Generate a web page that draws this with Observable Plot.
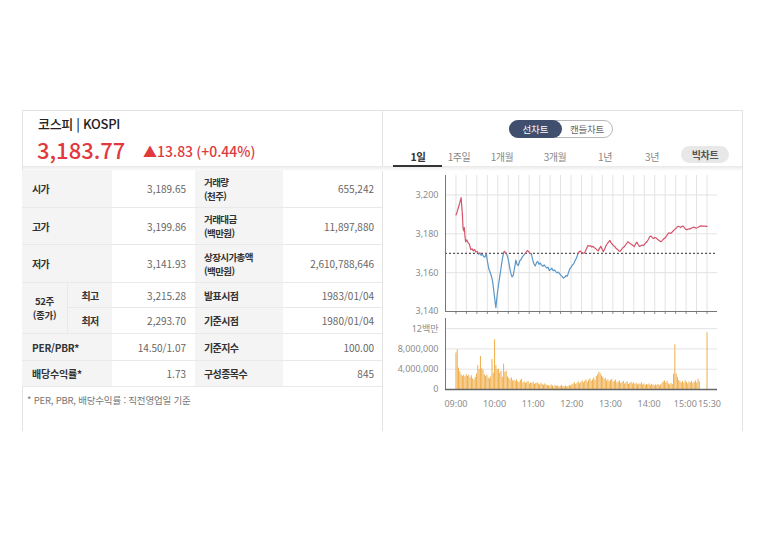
<!DOCTYPE html>
<html lang="ko">
<head>
<meta charset="utf-8">
<script src="https://cdn.jsdelivr.net/npm/d3@7"></script>
<script src="https://cdn.jsdelivr.net/npm/@observablehq/plot@0.6"></script>
<style>
html,body{margin:0;padding:0;background:#fff;}
body{font-family:"Noto Sans CJK KR","Noto Sans",sans-serif;}
#wrap{position:relative;width:768px;height:543px;overflow:hidden;background:#fff;}
.a{position:absolute;box-sizing:border-box;}
.lbl{font-weight:700;color:#333;font-size:10px;letter-spacing:-0.6px;display:flex;align-items:center;}
.val{color:#666;font-size:10px;display:flex;align-items:center;justify-content:flex-end;}
.gray{background:#f4f4f4;}
.bb{border-bottom:1px solid #e9e9e9;}
.two{font-size:9.5px;line-height:14px;}
svg{display:block;}
</style>
</head>
<body>
<div id="wrap"></div>
<script>
// ---------------- data ----------------
const indexTitle = "코스피 | KOSPI";
const lastValue = "3,183.77";
const changeText = "▲13.83 (+0.44%)";
const prevClose = 3169.94;

const leftLabels = ["시가", "고가", "저가", "최고", "최저", "PER/PBR*", "배당수익률*"];
const leftValues = ["3,189.65", "3,199.86", "3,141.93", "3,215.28", "2,293.70", "14.50/1.07", "1.73"];
const week52Label = ["52주", "(종가)"];
const rightLabels = [["거래량", "(천주)"], ["거래대금", "(백만원)"], ["상장시가총액", "(백만원)"], ["발표시점"], ["기준시점"], ["기준지수"], ["구성종목수"]];
const rightValues = ["655,242", "11,897,880", "2,610,788,646", "1983/01/04", "1980/01/04", "100.00", "845"];
const footnote = "* PER, PBR, 배당수익률 : 직전영업일 기준";
const chartTypes = ["선차트", "캔들차트"];
const periodTabs = ["1일", "1주일", "1개월", "3개월", "1년", "3년"];
const bigChart = "빅차트";

const priceTicks = [3140, 3160, 3180, 3200];
const volTicks = [0, 4000000, 8000000, 12000000];
const volTickLabels = ["0", "4,000,000", "8,000,000", "12백만"];
const timeTicks = ["09:00", "10:00", "11:00", "12:00", "13:00", "14:00", "15:00", "15:30"];

// intraday index (minutes after 09:00, value)
const priceMinute = [
  0, 2, 4, 6, 8, 10, 11, 12, 13, 14,
  15, 17, 19, 21, 23, 25, 27, 29, 31, 33,
  35, 37, 39, 41, 43, 45, 47, 49, 51, 53,
  55, 57, 59, 61, 62, 64, 66, 68, 70, 72,
  74, 75, 77, 79, 81, 83, 85, 87, 89, 91,
  93, 95, 97, 99, 101, 103, 105, 107, 109, 111,
  113, 115, 117, 119, 121, 123, 125, 127, 129, 131,
  133, 135, 137, 139, 141, 143, 145, 147, 149, 151,
  153, 155, 157, 159, 161, 163, 165, 167, 169, 171,
  173, 175, 177, 179, 181, 183, 185, 187, 189, 191,
  193, 195, 197, 199, 201, 203, 205, 207, 209, 211,
  213, 215, 217, 219, 221, 223, 225, 227, 229, 231,
  233, 235, 237, 239, 241, 243, 245, 247, 249, 251,
  253, 255, 257, 259, 261, 263, 265, 267, 269, 271,
  273, 275, 277, 279, 281, 283, 285, 287, 289, 291,
  293, 295, 297, 299, 301, 303, 305, 307, 309, 311,
  313, 315, 317, 319, 321, 323, 325, 327, 329, 331,
  333, 335, 337, 339, 341, 343, 345, 347, 349, 351,
  353, 355, 357, 359, 361, 363, 365, 367, 369, 371,
  373, 375, 377, 379, 380, 390
];
const priceValue = [
  3189.65, 3191.5, 3193.8, 3196.0, 3198.6, 3190.0, 3183.0, 3181.5, 3183.2, 3178.5,
  3176.0, 3176.8, 3175.3, 3174.6, 3171.8, 3172.3, 3171.2, 3171.9, 3170.6, 3170.9,
  3169.4, 3170.2, 3168.9, 3169.5, 3168.3, 3168.0, 3169.8, 3165.6, 3162.0, 3160.2,
  3158.3, 3155.4, 3150.0, 3144.5, 3141.93, 3148.5, 3153.5, 3157.8, 3162.5, 3166.8,
  3170.2, 3171.0, 3170.3, 3169.4, 3167.2, 3163.5, 3160.0, 3157.8, 3158.6, 3162.4,
  3166.4, 3164.2, 3163.7, 3166.0, 3166.7, 3168.0, 3168.9, 3169.6, 3170.4, 3171.4,
  3170.8, 3169.7, 3169.9, 3166.8, 3164.6, 3163.4, 3165.0, 3165.8, 3164.3, 3164.9,
  3163.9, 3163.2, 3164.0, 3163.1, 3162.4, 3162.8, 3161.1, 3161.6, 3162.3, 3161.0,
  3161.4, 3160.5, 3159.9, 3160.3, 3159.5, 3158.6, 3158.0, 3157.2, 3157.6, 3158.5,
  3158.2, 3160.3, 3162.0, 3162.8, 3164.0, 3164.6, 3166.2, 3167.4, 3169.3, 3170.6,
  3171.2, 3170.5, 3170.1, 3170.0, 3171.0, 3172.6, 3174.0, 3173.6, 3173.9, 3173.2,
  3173.5, 3172.8, 3172.4, 3171.7, 3171.2, 3172.5, 3173.6, 3172.0, 3170.8, 3172.2,
  3173.8, 3174.9, 3175.7, 3176.6, 3175.3, 3174.6, 3173.8, 3173.3, 3172.4, 3171.9,
  3171.3, 3170.9, 3171.8, 3172.8, 3173.2, 3174.0, 3175.0, 3175.9, 3175.4, 3174.9,
  3174.5, 3174.0, 3173.4, 3174.8, 3175.7, 3174.5, 3173.5, 3173.8, 3174.2, 3173.9,
  3174.6, 3175.4, 3176.0, 3177.2, 3178.5, 3178.8, 3178.0, 3177.6, 3178.1, 3177.8,
  3177.2, 3176.7, 3176.2, 3175.9, 3176.8, 3177.5, 3177.9, 3178.8, 3179.9, 3180.5,
  3180.2, 3180.6, 3181.3, 3182.0, 3182.6, 3183.3, 3183.9, 3183.6, 3183.2, 3183.8,
  3183.9, 3183.0, 3182.3, 3182.1, 3182.6, 3182.4, 3182.8, 3183.1, 3183.4, 3183.2,
  3182.9, 3183.1, 3183.5, 3183.9, 3184.1, 3183.77
];

// volume (millions of shares) per 2-minute bucket from 09:00 to 15:18
const volStartTime = "09:00";
const volStepMin = 2;
const volumeM = [
  7.2, 7.8, 4.2, 3.5, 2.9, 2.6, 2.8, 2.5, 2.9, 2.6,
  2.8, 2.3, 2.7, 2.1, 1.9, 2.4, 3.1, 4.7, 3.9, 6.5,
  4.1, 3.8, 2.9, 2.6, 2.8, 2.3, 2.1, 2.5, 5.9, 3.2,
  9.8, 4.7, 3.9, 4.0, 3.2, 3.6, 2.4, 5.0, 3.4, 3.6,
  2.5, 2.2, 1.9, 2.3, 1.7, 1.8, 1.6, 1.9, 1.5, 1.4,
  1.8, 2.0, 1.3, 1.5, 1.2, 1.4, 1.6, 1.1, 1.3, 1.2,
  1.4, 1.0, 1.2, 1.3, 1.1, 0.9, 1.2, 1.0, 0.8, 1.1,
  0.9, 0.7, 0.8, 0.6, 0.9, 0.7, 0.5, 0.8, 0.6, 0.7,
  0.5, 0.6, 0.8, 0.5, 0.6, 0.7, 0.5, 0.6, 0.8, 0.7,
  0.9, 1.1, 1.3, 1.0, 1.2, 1.5, 1.1, 1.4, 1.7, 1.3,
  1.6, 1.9, 1.4, 1.8, 2.1, 1.6, 1.9, 2.3, 1.8, 2.6,
  2.9, 3.4, 3.1, 2.7, 2.4, 2.0, 2.2, 1.7, 1.9, 1.5,
  1.8, 2.0, 1.4, 1.6, 1.9, 1.3, 1.5, 1.7, 1.2, 1.4,
  1.6, 1.1, 1.3, 1.5, 1.0, 1.2, 1.4, 1.1, 1.3, 1.0,
  1.2, 0.9, 1.1, 1.0, 1.3, 0.9, 1.1, 0.8, 1.0, 0.9,
  1.1, 0.8, 1.0, 0.9, 0.7, 0.9, 0.8, 1.0, 0.7, 0.9,
  1.2, 1.5, 1.7, 1.3, 1.6, 1.1, 0.9, 1.2, 1.0, 3.0,
  8.8, 3.1, 2.4, 1.8, 1.5, 1.3, 1.6, 1.2, 1.7, 1.4,
  1.1, 1.5, 1.3, 1.6, 1.2, 1.4, 1.7, 1.3, 2.0, 1.5
];
const closeAuctionTime = "15:30";
const closeAuctionVolM = 11.2;

// ---------------- layout helpers ----------------
const wrap = document.getElementById("wrap");
function el(cls, style, html) {
  const d = document.createElement("div");
  d.className = "a " + (cls || "");
  Object.assign(d.style, style);
  if (html != null) d.innerHTML = html;
  wrap.appendChild(d);
  return d;
}
const px = v => v + "px";

// card frame
el("", {left: "22px", top: "110px", width: "721px", height: "321px", border: "1px solid #e3e3e3", borderBottom: "none"});
el("", {left: "382px", top: "110px", width: "1px", height: "321px", background: "#e3e3e3"});
el("", {left: "23px", top: "166px", width: "719px", height: "5px", background: "linear-gradient(#e9e9e9,#ffffff)"});

// left header
el("", {left: "38px", top: "114px", fontSize: "13px", color: "#222", fontWeight: "500", letterSpacing: "-0.3px", whiteSpace: "nowrap"}, indexTitle);
el("", {left: "37px", top: "134px", fontSize: "22px", color: "#e0393e", fontWeight: "500", whiteSpace: "nowrap", lineHeight: "30px"}, lastValue);
el("", {left: "143px", top: "141px", fontSize: "14px", color: "#e0393e", fontWeight: "500", whiteSpace: "nowrap", lineHeight: "20px"}, changeText);

// table
const rowEdges = [170, 208, 245, 283, 308, 334, 361, 387];
for (let i = 0; i < leftLabels.length; i++) {
  const top = rowEdges[i], h = rowEdges[i + 1] - top;
  if (i === 3 || i === 4) {
    el("lbl gray bb", {left: "67px", top: px(top), width: "45px", height: px(h), justifyContent: "center", borderLeft: "1px solid #e9e9e9"}, leftLabels[i]);
  } else {
    el("lbl gray bb", {left: "22px", top: px(top), width: "90px", height: px(h), paddingLeft: "10px", letterSpacing: i >= 5 ? "-0.2px" : "-0.6px"}, leftLabels[i]);
  }
  el("val bb", {left: "112px", top: px(top), width: "83px", height: px(h), paddingRight: "9px"}, leftValues[i]);
  const rl = rightLabels[i];
  el("lbl gray bb" + (rl.length > 1 ? " two" : ""), {left: "195px", top: px(top), width: "88px", height: px(h), paddingLeft: "9px"},
     rl.length > 1 ? "<div>" + rl[0] + "<br>" + rl[1] + "</div>" : rl[0]);
  el("val bb", {left: "283px", top: px(top), width: "99px", height: px(h), paddingRight: "8px"}, rightValues[i]);
}
el("lbl gray bb two", {left: "22px", top: px(rowEdges[3]), width: "45px", height: px(rowEdges[5] - rowEdges[3]), justifyContent: "center", textAlign: "center", letterSpacing: "-0.3px"},
   "<div>" + week52Label[0] + "<br>" + week52Label[1] + "</div>");
el("", {left: "27px", top: "393px", fontSize: "9.5px", color: "#777", whiteSpace: "nowrap", letterSpacing: "-0.2px"}, footnote);

// right header: chart type toggle
el("", {left: "509px", top: "120px", width: "104px", height: "18px", border: "1px solid #b8b8b8", borderRadius: "9px"});
el("", {left: "509px", top: "120px", width: "53px", height: "18px", background: "#3f4f6d", borderRadius: "9px", color: "#fff", fontSize: "9.5px", display: "flex", alignItems: "center", justifyContent: "center"}, chartTypes[0]);
el("", {left: "562px", top: "120px", width: "50px", height: "18px", color: "#666", fontSize: "9.5px", display: "flex", alignItems: "center", justifyContent: "center", letterSpacing: "-0.3px"}, chartTypes[1]);

// period tabs
const tabCenters = [418, 459, 502, 555, 605, 652];
periodTabs.forEach((t, i) => {
  el("", {left: px(tabCenters[i] - 25), top: "146px", width: "50px", height: "20px", display: "flex", alignItems: "center", justifyContent: "center",
          fontSize: i === 0 ? "10.5px" : "10px", fontWeight: i === 0 ? "700" : "400", color: i === 0 ? "#333" : "#888", letterSpacing: "-0.4px"}, t);
});
el("", {left: "393px", top: "165px", width: "49px", height: "2px", background: "#333"});
el("", {left: "681px", top: "146px", width: "48px", height: "17px", background: "#e8e8e8", borderRadius: "9px", display: "flex", alignItems: "center", justifyContent: "center",
        fontSize: "10px", fontWeight: "700", color: "#555", letterSpacing: "-0.3px"}, bigChart);

// ---------------- charts ----------------
const toMin = t => { const [h, m] = t.split(":").map(Number); return (h - 9) * 60 + m; };
const gridStep = 16.25;
const xDomain = [-gridStep, toMin("15:30") + gridStep];
const vGrid = d3.range(0, 25).map(k => k * gridStep);
const axisStyle = {background: "transparent", overflow: "visible", fontFamily: '"Noto Sans","Noto Sans CJK KR",sans-serif', fontSize: "9px", color: "#8c8c8c"};

const price = priceMinute.map((m, i) => ({m, v: priceValue[i]}));
const priceChart = Plot.plot({
  width: 345, height: 148,
  marginLeft: 62, marginRight: 11, marginTop: 5, marginBottom: 7,
  style: axisStyle,
  x: {domain: xDomain, ticks: vGrid, tickSize: 3, tickFormat: () => "", label: null},
  y: {domain: [3140, 3210], ticks: priceTicks, tickFormat: d3.format(","), tickSize: 0, tickPadding: 7, label: null},
  marks: [
    Plot.ruleX(vGrid, {stroke: "#e3e3e3"}),
    Plot.ruleY(priceTicks.slice(1), {stroke: "#e3e3e3"}),
    Plot.ruleY([prevClose], {stroke: "#555", strokeDasharray: "2,2", strokeWidth: 1.3}),
    Plot.line(price, {x: "m", y: "v", stroke: "url(#priceGrad)", strokeWidth: 1.2}),
    Plot.ruleX([xDomain[0]], {stroke: "#777"}),
    Plot.ruleY([priceTicks[0]], {stroke: "#777"})
  ]
});
// colour the line red above / blue below the previous close
const yb = priceChart.scale("y").apply(prevClose);
const defs = d3.select(priceChart).insert("defs", ":first-child");
const lg = defs.append("linearGradient").attr("id", "priceGrad").attr("gradientUnits", "userSpaceOnUse")
  .attr("x1", 0).attr("x2", 0).attr("y1", yb).attr("y2", yb + 0.5);
lg.append("stop").attr("offset", 0).attr("stop-color", "#d6546c");
lg.append("stop").attr("offset", 1).attr("stop-color", "#5b96c6");

const vol = volumeM.map((v, i) => ({m: toMin(volStartTime) + i * volStepMin, v: v * 1e6}));
vol.push({m: toMin(closeAuctionTime), v: closeAuctionVolM * 1e6});
const timeTickMin = timeTicks.map(toMin);
const volChart = Plot.plot({
  width: 345, height: 102,
  marginLeft: 62, marginRight: 11, marginTop: 6, marginBottom: 25,
  style: axisStyle,
  x: {domain: xDomain, ticks: timeTickMin, tickFormat: m => timeTicks[timeTickMin.indexOf(m)], tickSize: 0, tickPadding: 11, label: null},
  y: {domain: [0, 14e6], ticks: volTicks, tickFormat: d => volTickLabels[volTicks.indexOf(d)], tickSize: 0, tickPadding: 7, label: null},
  marks: [
    Plot.ruleY(volTicks.slice(1), {stroke: "#e3e3e3"}),
    Plot.ruleX(vol, {x: "m", y1: 0, y2: "v", stroke: "#efad48", strokeWidth: 1}),
    Plot.ruleX([xDomain[0]], {stroke: "#777"}),
    Plot.ruleY([0], {stroke: "#666", strokeWidth: 1.5})
  ]
});
// the last two time labels sit edge to edge, as in the reference
d3.select(volChart).selectAll("text").each(function() {
  const t = this.textContent;
  if (t === timeTicks[timeTicks.length - 2]) d3.select(this).attr("dx", -2.4);
  if (t === timeTicks[timeTicks.length - 1]) d3.select(this).attr("dx", 2.4);
});

const pBox = el("", {left: "383px", top: "170px"});
pBox.appendChild(priceChart);
const vBox = el("", {left: "383px", top: "312px"});
vBox.appendChild(volChart);
</script>
</body>
</html>
